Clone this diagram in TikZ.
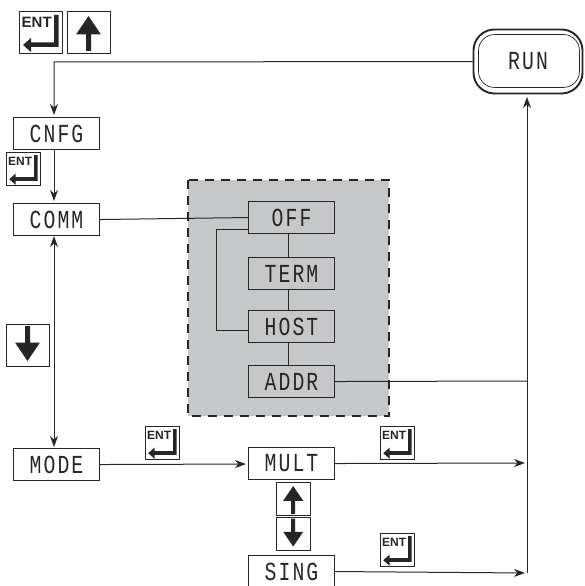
\documentclass[tikz,border=0pt]{standalone}
\usepackage{fontspec}
\setmainfont{Liberation Sans}
\newfontfamily\boxfont[FakeStretch=0.76,LetterSpace=8]{Liberation Mono}
\usetikzlibrary{arrows.meta}
\definecolor{ink}{HTML}{262626}
\definecolor{panel}{HTML}{C6C7C9}
\tikzset{
  x=1pt,y=-1pt,
  stateb/.style={draw=ink,line width=1.05pt,minimum width=86pt,inner sep=0pt,text=ink,
    font=\boxfont\fontsize{26}{26}\selectfont,anchor=north west},
  h32/.style={minimum height=32pt},
  wire/.style={draw=ink,line width=1pt},
  arr/.style={wire,-{Stealth[length=11pt,width=8pt,inset=3.5pt]},shorten >=2pt},
  arrb/.style={wire,{Stealth[length=11pt,width=8pt,inset=3.5pt]}-{Stealth[length=11pt,width=8pt,inset=3.5pt]},shorten >=1pt,shorten <=1pt},
  keyframe/.style={draw=ink,line width=0.9pt,fill=white},
  entkey/.pic={
    \draw[keyframe] (0,0) rectangle (43,42);
    \node[anchor=west,inner sep=0pt,text=ink,font=\fontsize{15}{15}\selectfont\bfseries,transform shape] (label) at (2.5,11.5) {ENT};
    \fill[ink] (35,4) -- (39.5,4) -- (39.5,36) -- (12,36) -- (12,41) -- (4,34) -- (12,27) -- (12,31.5) -- (35,31.5) -- cycle;
  },
  upkey/.pic={
    \draw[keyframe] (0,0) rectangle (43,42);
    \fill[ink] (21.5,5) -- (34,23.5) -- (24,23.5) -- (24,40) -- (19,40) -- (19,23.5) -- (9,23.5) -- cycle;
  },
  downkey/.pic={
    \draw[keyframe] (0,0) rectangle (43,42);
    \fill[ink] (21.5,37) -- (34,18.5) -- (24,18.5) -- (24,2) -- (19,2) -- (19,18.5) -- (9,18.5) -- cycle;
  },
}
\begin{document}
\begin{tikzpicture}
\useasboundingbox (0,0) rectangle (584,586);
\clip (0,0) rectangle (584,586);
% panel
\draw[fill=panel,draw=ink,line width=1.1pt,dash pattern=on 9pt off 7pt] (188,180) rectangle (389,416);
% boxes
\node[stateb,h32] (cnfg) at (13,117) {CNFG};
\node[stateb,h32] (comm) at (13,203) {COMM};
\node[stateb,h32] (mode) at (13,448) {MODE};
\node[stateb,h32] (off) at (248,201) {OFF};
\node[stateb,h32] (term) at (248,257) {TERM};
\node[stateb,h32] (host) at (248,310) {HOST};
\node[stateb,h32] (addr) at (248,365) {ADDR};
\node[stateb,h32] (mult) at (248,447) {MULT};
\node[stateb,h32] (sing) at (248,555) {SING};
% RUN
\node[draw=ink,line width=1.9pt,rounded corners=21pt,minimum width=109pt,minimum height=64pt,inner sep=0pt,
  text=ink,font=\boxfont\fontsize{26}{26}\selectfont] (run) at (528,61.5) {RUN};
\draw[ink,line width=0.7pt,rounded corners=16pt] ([shift={(6,6)}]run.north west) rectangle ([shift={(-4,-7)}]run.south east);
% bus coordinates
\coordinate (busA) at (527,381);
\coordinate (busM) at (527,463);
\coordinate (busS) at (527,573);
\coordinate (runin) at (527,95);
\coordinate (ltop) at (54,62);
\coordinate (cnfgin) at (54,117);
\coordinate (cnfgout) at (54,149);
\coordinate (commin) at (54,203);
\coordinate (commout) at (54,235);
\coordinate (modein) at (54,448);
\coordinate (loopa) at (248,229);
\coordinate (loopb) at (248,330);
\coordinate (loopc) at (216,229);
\coordinate (loopd) at (216,330);
\coordinate (offdn) at (288,233);
\coordinate (termup) at (288,257);
\coordinate (termdn) at (288,289);
\coordinate (hostup) at (288,310);
\coordinate (hostdn) at (288,342);
\coordinate (addrup) at (288,365);
% connectors
\draw[arr] (run.west) -- (ltop) -- (cnfgin);
\draw[arr] (cnfgout) -- (commin);
\draw[arrb] (commout) -- (modein);
\draw[wire] (comm.east) -- (off.west);
\draw[wire] (loopa) -- (loopc) -- (loopd) -- (loopb);
\draw[wire] (offdn) -- (termup);
\draw[wire] (termdn) -- (hostup);
\draw[wire] (hostdn) -- (addrup);
\draw[wire] (addr.east) -- (busA);
\draw[arr] (busS) -- (runin);
\draw[arr] (mode.east) -- ([yshift=-0.5pt]mult.west);
\draw[arr] (mult.east) -- (busM);
\draw[arr] (sing.east) -- (busS);
% keys
\pic (enta) at (19,11) {entkey};
\pic (upa) at (67,11) {upkey};
\pic[scale=0.8] (entb) at (6,152) {entkey};
\pic (downa) at (6,324) {downkey};
\pic[scale=0.8] (entc) at (145,426) {entkey};
\pic[scale=0.8] (entd) at (380,426) {entkey};
\pic[scale=0.8] (ente) at (380,533) {entkey};
\pic[scale=0.8] (upb) at (276,482) {upkey};
\pic[scale=0.8] (downb) at (276,517) {downkey};
\end{tikzpicture}
\end{document}
